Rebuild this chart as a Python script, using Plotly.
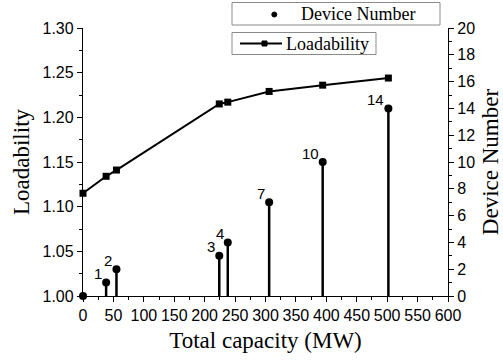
import plotly.graph_objects as go

capacity = [0, 38, 55, 224, 238, 306, 394, 502]
loadability = [1.115, 1.134, 1.141, 1.215, 1.217, 1.229, 1.236, 1.244]
device_number = [0, 1, 2, 3, 4, 7, 10, 14]
device_labels = ["", "1", "2", "3", "4", "7", "10", "14"]
series_names = ["Device Number", "Loadability"]

TICKF = dict(family="Liberation Sans, Arial", size=16, color="black")
LABELF = dict(family="Liberation Sans, Arial", size=15, color="black")
TITLEF = dict(family="Liberation Serif, Times New Roman", size=23, color="black")
LEGF = dict(family="Liberation Serif, Times New Roman", size=18, color="black")

W, H = 503, 362
ML, MR, MT, MB = 83, 55, 28, 66
PW = W - ML - MR
PH = H - MT - MB


def px(x):  # window pixel -> paper x
    return (x - ML) / PW


def py(y):  # window pixel -> paper y
    return (H - MB - y) / PH


fig = go.Figure()

# stems
sx, sy = [], []
for c, d in zip(capacity, device_number):
    sx += [c, c, None]
    sy += [0, d, None]
fig.add_trace(go.Scatter(x=sx, y=sy, yaxis="y2", mode="lines",
                         line=dict(color="black", width=2.5),
                         showlegend=False, hoverinfo="skip", cliponaxis=False))

fig.add_trace(go.Scatter(x=capacity, y=device_number, yaxis="y2", mode="markers",
                         name=series_names[0],
                         marker=dict(color="black", size=8, symbol="circle"),
                         cliponaxis=False, showlegend=False))

fig.add_trace(go.Scatter(x=capacity, y=loadability, mode="lines+markers",
                         name=series_names[1],
                         line=dict(color="black", width=2),
                         marker=dict(color="black", size=7, symbol="square"),
                         cliponaxis=False, showlegend=False))

axis_common = dict(showline=True, linecolor="black", linewidth=1.3,
                   ticks="outside", ticklen=5, tickwidth=1.3, tickcolor="black",
                   showgrid=False, zeroline=False, tickfont=TICKF, automargin=False)

# manual legend boxes
shapes = [
    dict(type="rect", xref="paper", yref="paper", x0=px(232), x1=px(440), y0=py(25), y1=py(2.5),
         line=dict(color="#8a8a8a", width=1), fillcolor="white", layer="above"),
    dict(type="circle", xref="paper", yref="paper", x0=px(271.8), x1=px(276.8), y0=py(17), y1=py(12),
         line=dict(color="black", width=1), fillcolor="black", layer="above"),
    dict(type="rect", xref="paper", yref="paper", x0=px(232), x1=px(376), y0=py(54.5), y1=py(32.5),
         line=dict(color="#8a8a8a", width=1), fillcolor="white", layer="above"),
    dict(type="line", xref="paper", yref="paper", x0=px(240), x1=px(282), y0=py(43.5), y1=py(43.5),
         line=dict(color="black", width=2), layer="above"),
    dict(type="rect", xref="paper", yref="paper", x0=px(262), x1=px(267), y0=py(46), y1=py(41),
         line=dict(color="black", width=1), fillcolor="black", layer="above"),
]
annotations = [
    dict(text=series_names[0], xref="paper", yref="paper", x=px(299), y=py(14), xanchor="left",
         yanchor="middle", showarrow=False, font=LEGF),
    dict(text=series_names[1], xref="paper", yref="paper", x=px(284), y=py(43.5), xanchor="left",
         yanchor="middle", showarrow=False, font=LEGF),
]
# point labels for device numbers
for c, d, lab in zip(capacity, device_number, device_labels):
    if lab:
        annotations.append(dict(text=lab, x=c, y=d, xref="x", yref="y2", xanchor="right",
                                yanchor="middle", xshift=-2, yshift=9, showarrow=False,
                                font=LABELF))

fig.update_layout(
    width=W, height=H,
    margin=dict(l=ML, r=MR, t=MT, b=MB, autoexpand=False),
    plot_bgcolor="white", paper_bgcolor="white",
    showlegend=False,
    shapes=shapes, annotations=annotations,
    xaxis=dict(range=[0, 600], dtick=50, tick0=0,
               title=dict(text="Total capacity (MW)", font=TITLEF, standoff=8),
               minor=dict(dtick=25, ticks="outside", ticklen=3, tickcolor="black", tickwidth=1),
               **axis_common),
    yaxis=dict(range=[1.0, 1.30], dtick=0.05, tick0=1.0, tickformat=".2f",
               title=dict(text="Loadability", font=TITLEF, standoff=6),
               minor=dict(dtick=0.025, ticks="outside", ticklen=3, tickcolor="black", tickwidth=1),
               **axis_common),
    yaxis2=dict(range=[0, 20], dtick=2, tick0=0, overlaying="y", side="right",
                title=dict(text="Device Number", font=TITLEF, standoff=8),
                minor=dict(dtick=1, ticks="outside", ticklen=3, tickcolor="black", tickwidth=1),
                **axis_common),
)

fig.write_html("out.html", config={"displayModeBar": False},
               post_script="document.body.style.margin='0';")
